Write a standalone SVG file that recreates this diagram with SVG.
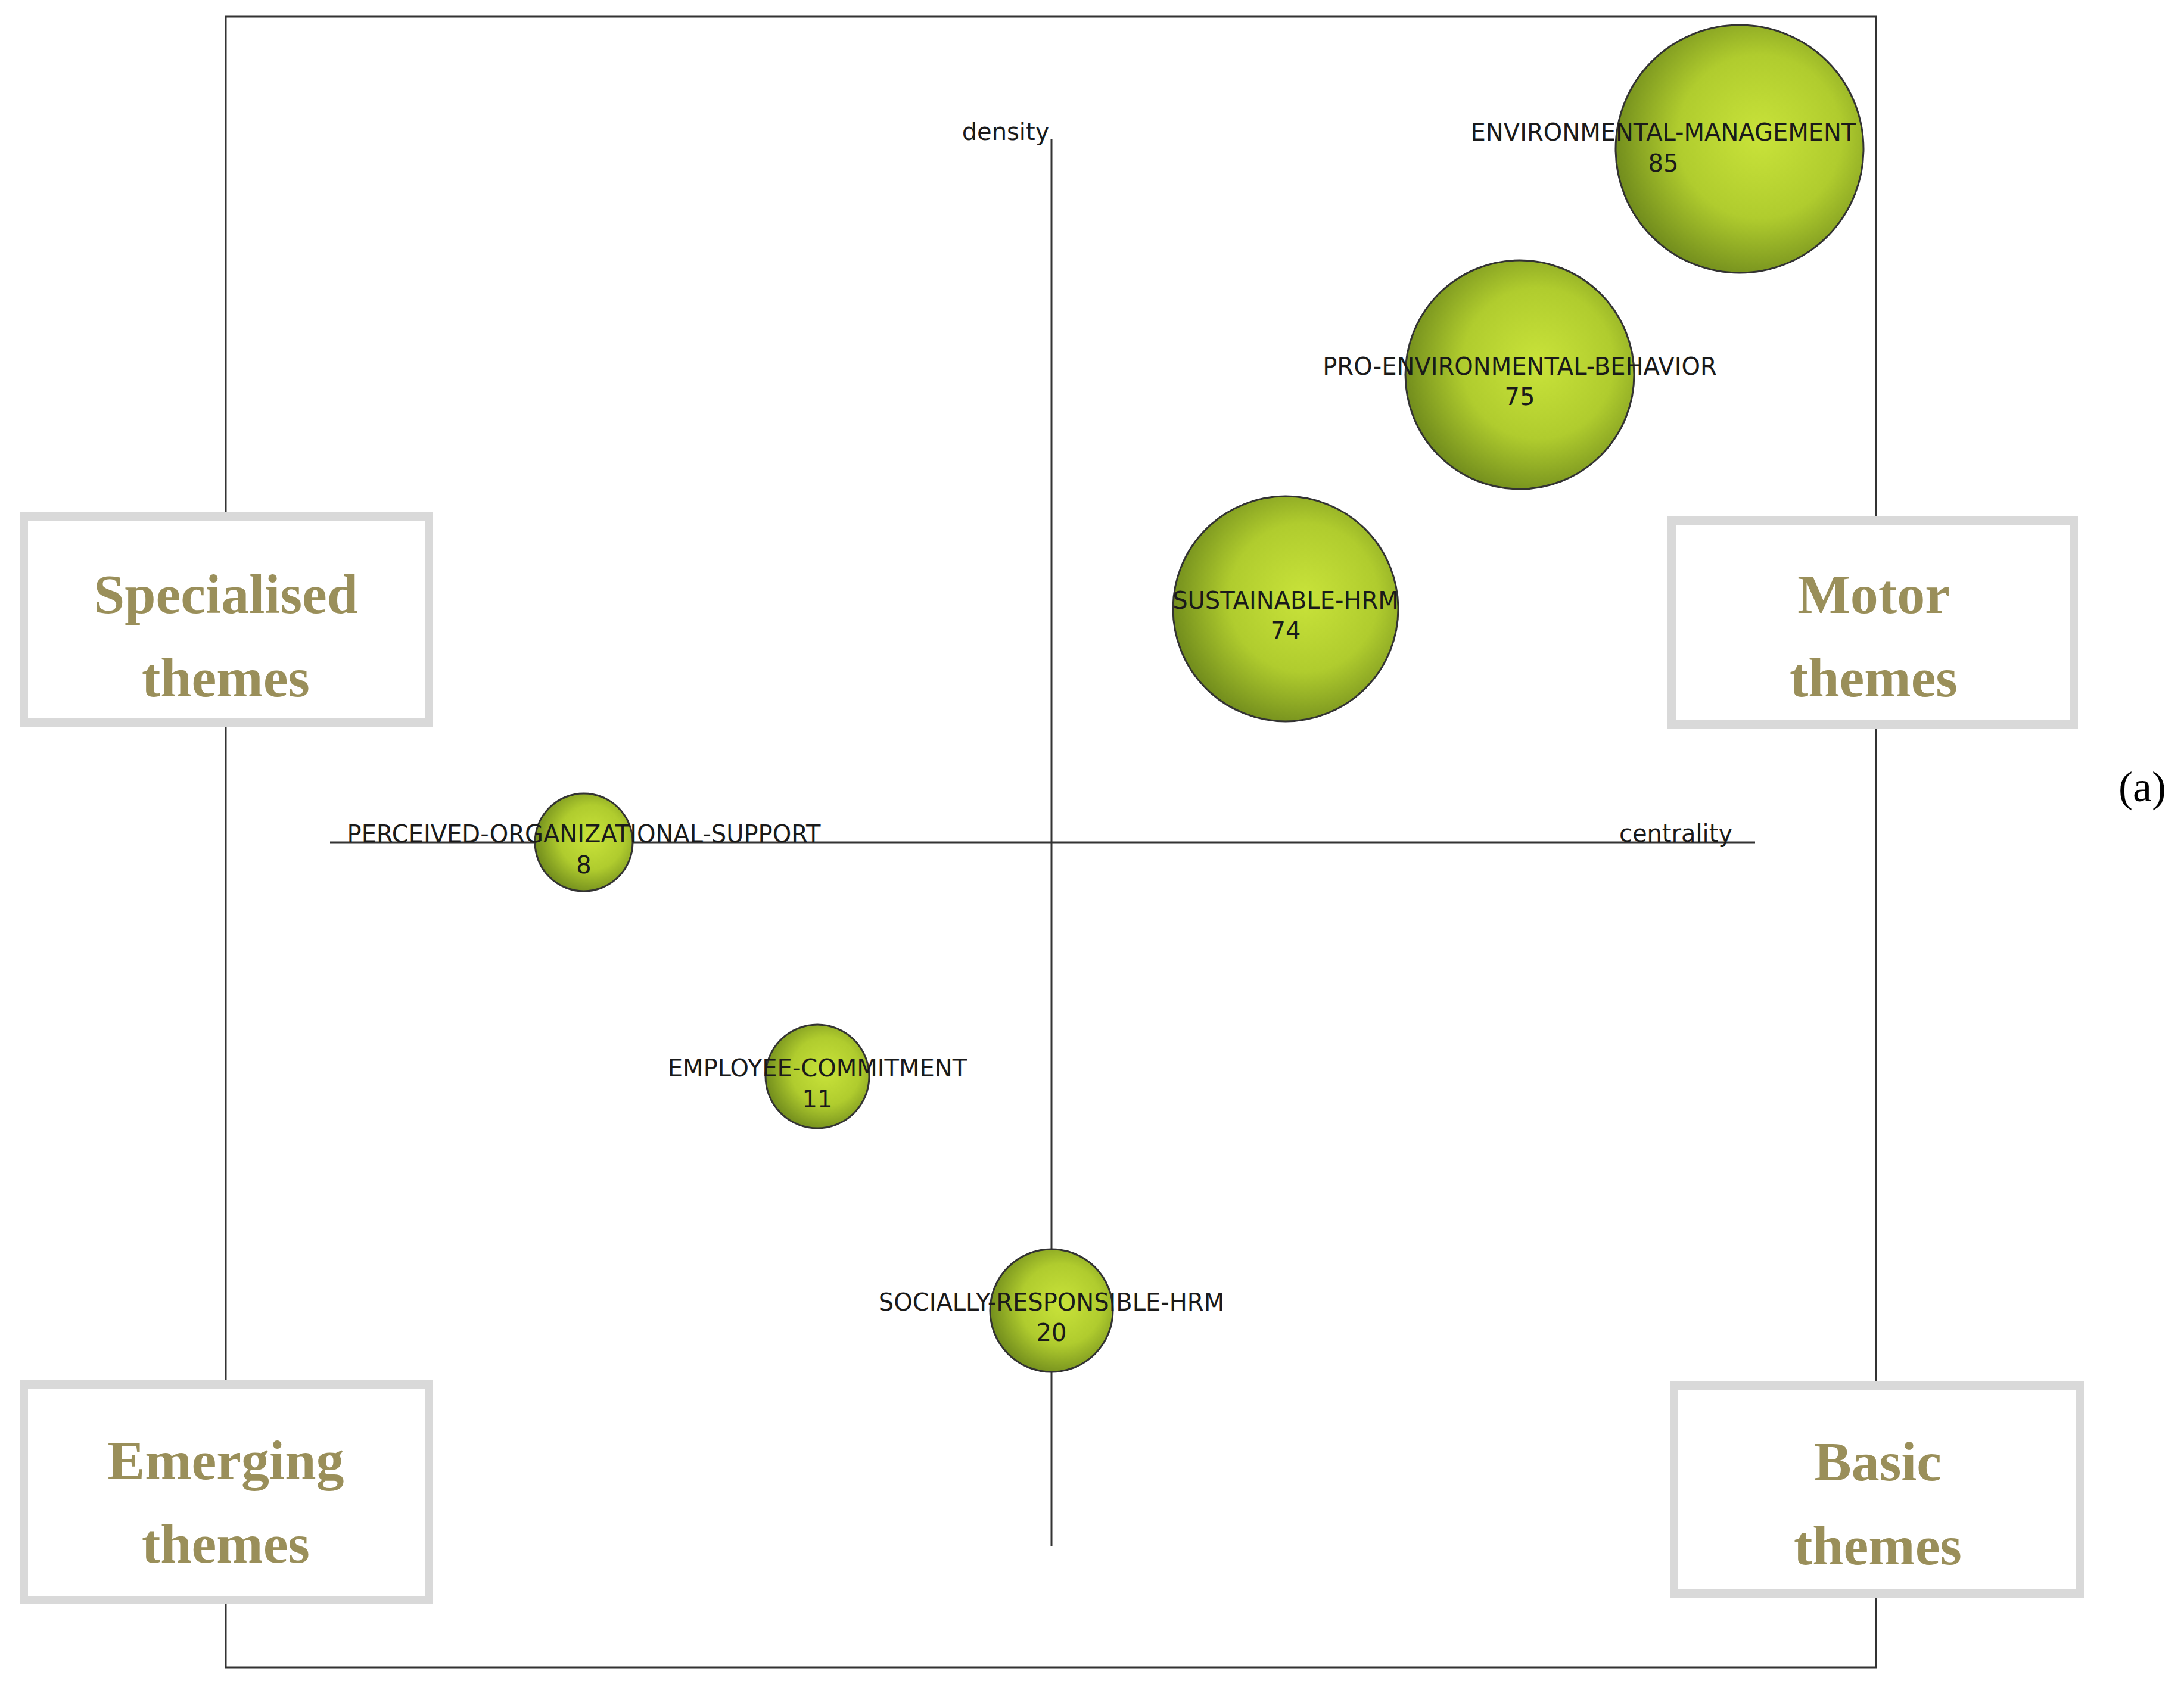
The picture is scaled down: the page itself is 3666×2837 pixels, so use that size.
<svg xmlns="http://www.w3.org/2000/svg" width="3666" height="2837" viewBox="0 0 3666 2837">
<style>
.lbl{font-family:"DejaVu Sans",Verdana,sans-serif;font-size:40px;fill:#1a1a1a;text-anchor:middle}
.ax{stroke:#333;stroke-width:3;fill:none}
.bub{stroke:#333;stroke-width:3;fill:url(#g)}
.box{fill:#fff;stroke:#d9d9d9;stroke-width:14}
.qt{font-family:"Liberation Serif","Times New Roman",serif;font-weight:bold;font-size:94px;fill:#9a8f5a;text-anchor:middle}
</style>
<defs>
<radialGradient id="g" cx="0.58" cy="0.45" r="0.6">
<stop offset="0" stop-color="#c9e33a"/>
<stop offset="0.55" stop-color="#b0cc2e"/>
<stop offset="1" stop-color="#6f8a1c"/>
</radialGradient>
</defs>
<rect x="0" y="0" width="3666" height="2837" fill="#fff"/>
<rect x="379" y="28" width="2770" height="2771" class="ax"/>
<g id="connectors">
<line x1="1765" y1="234" x2="1765" y2="2595" class="ax"/>
<line x1="554" y1="1414" x2="2946" y2="1414" class="ax"/>
</g>
<text class="lbl" x="1688" y="235">density</text>
<text class="lbl" x="2813" y="1413">centrality</text>
<g id="n1"><circle cx="2920" cy="250" r="208" class="bub"/><text class="lbl" x="2792" y="236">ENVIRONMENTAL-MANAGEMENT</text><text class="lbl" x="2792" y="288">85</text></g>
<g id="n2"><circle cx="2551" cy="629" r="192" class="bub"/><text class="lbl" x="2551" y="629">PRO-ENVIRONMENTAL-BEHAVIOR</text><text class="lbl" x="2551" y="680">75</text></g>
<g id="n3"><circle cx="2158" cy="1022" r="189" class="bub"/><text class="lbl" x="2158" y="1022">SUSTAINABLE-HRM</text><text class="lbl" x="2158" y="1073">74</text></g>
<g id="n4"><circle cx="980" cy="1414" r="82" class="bub"/><text class="lbl" x="980" y="1414">PERCEIVED-ORGANIZATIONAL-SUPPORT</text><text class="lbl" x="980" y="1466">8</text></g>
<g id="n5"><circle cx="1372" cy="1807" r="87" class="bub"/><text class="lbl" x="1372" y="1807">EMPLOYEE-COMMITMENT</text><text class="lbl" x="1372" y="1859">11</text></g>
<g id="n6"><circle cx="1765" cy="2200" r="103" class="bub"/><text class="lbl" x="1765" y="2200">SOCIALLY-RESPONSIBLE-HRM</text><text class="lbl" x="1765" y="2251">20</text></g>
<g id="q1"><rect x="40" y="867" width="680" height="346" class="box"/><text class="qt" x="379" y="1029">Specialised</text><text class="qt" x="379" y="1169">themes</text></g>
<g id="q2"><rect x="2806" y="874" width="675" height="342" class="box"/><text class="qt" x="3145" y="1029">Motor</text><text class="qt" x="3145" y="1169">themes</text></g>
<g id="q3"><rect x="40" y="2324" width="680" height="362" class="box"/><text class="qt" x="379" y="2483">Emerging</text><text class="qt" x="379" y="2623">themes</text></g>
<g id="q4"><rect x="2810" y="2326" width="681" height="349" class="box"/><text class="qt" x="3152" y="2485">Basic</text><text class="qt" x="3152" y="2626">themes</text></g>
<text x="3596" y="1345" font-family="Liberation Serif,serif" font-size="72" text-anchor="middle" fill="#000">(a)</text>
</svg>
